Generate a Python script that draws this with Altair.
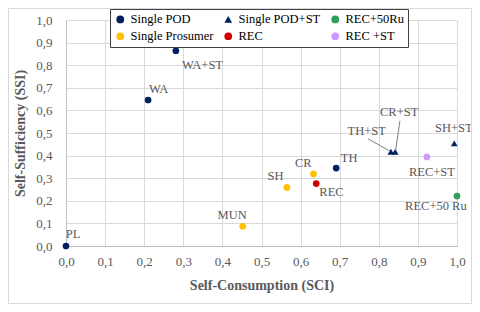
import altair as alt
import pandas as pd

# Series (legend order, row-major in 3 columns)
series = ["Single POD", "Single POD+ST", "REC+50Ru", "Single Prosumer", "REC", "REC +ST"]
series_colors = ["#002060", "#002060", "#2E9E5B", "#FFC000", "#D00000", "#CC99FF"]
series_shapes = ["circle", "triangle-up", "circle", "circle", "circle", "circle"]

# Points
names = ["PL", "WA", "WA+ST", "TH", "CR", "SH", "MUN", "REC", "TH+ST", "CR+ST", "SH+ST", "REC+ST", "REC+50Ru"]
groups = ["Single POD", "Single POD", "Single POD", "Single POD", "Single Prosumer", "Single Prosumer",
          "Single Prosumer", "REC", "Single POD+ST", "Single POD+ST", "Single POD+ST", "REC +ST", "REC+50Ru"]
sci = [0.0, 0.21, 0.281, 0.691, 0.633, 0.565, 0.452, 0.640, 0.831, 0.842, 0.993, 0.923, 1.0]
ssi = [0.0, 0.646, 0.864, 0.345, 0.319, 0.259, 0.087, 0.276, 0.417, 0.417, 0.454, 0.394, 0.221]

# Point labels and their anchor positions (data units)
label_text = ["PL", "WA", "WA+ST", "TH", "CR", "SH", "MUN", "REC", "TH+ST", "CR+ST", "SH+ST", "REC+ST", "REC+50 Ru"]
label_x = [0.018, 0.237, 0.349, 0.724, 0.607, 0.536, 0.425, 0.679, 0.769, 0.852, 0.992, 0.936, 0.946]
label_y = [0.053, 0.695, 0.802, 0.389, 0.367, 0.311, 0.138, 0.237, 0.507, 0.594, 0.522, 0.329, 0.175]

# Leader lines (data units)
lead_x = [0.772, 0.854]
lead_y = [0.475, 0.554]
lead_x2 = [0.829, 0.843]
lead_y2 = [0.419, 0.421]

ticks = [round(i / 10, 1) for i in range(11)]

pts = pd.DataFrame({"name": names, "group": groups, "SCI": sci, "SSI": ssi})
labels = pd.DataFrame({"name": label_text, "lx": label_x, "ly": label_y})
leads = pd.DataFrame({"x": lead_x, "y": lead_y, "x2": lead_x2, "y2": lead_y2})

W, H = 391, 226
serif = "Liberation Serif"
label_expr = "replace(format(datum.value, '.1f'), '.', ',')"

xscale = alt.Scale(domain=[0, 1], nice=False)
yscale = alt.Scale(domain=[0, 1], nice=False)
xaxis = alt.Axis(values=ticks, labelExpr=label_expr, title="Self-Consumption (SCI)",
                 grid=True, ticks=False, labelPadding=9, titlePadding=10,
                 labelFlush=False, labelOverlap=False, labelFont=serif)
yaxis = alt.Axis(values=ticks, labelExpr=label_expr, title="Self-Sufficiency (SSI)",
                 grid=True, ticks=False, labelPadding=14, titlePadding=8,
                 labelFlush=False, labelOverlap=False, labelFont=serif)

frame = alt.Chart(pd.DataFrame({"a": [0]})).mark_rect(
    fill="white", fillOpacity=0, stroke="#D9D9D9", strokeWidth=1
).encode(
    x=alt.value(-57.5), x2=alt.value(W + 14.5),
    y=alt.value(-11.5), y2=alt.value(H + 57.5)
)

base_pts = alt.Chart(pts).mark_point(filled=True, size=45, opacity=1).encode(
    x=alt.X("SCI:Q", scale=xscale, axis=xaxis),
    y=alt.Y("SSI:Q", scale=yscale, axis=yaxis),
    color=alt.Color("group:N", scale=alt.Scale(domain=series, range=series_colors),
                    legend=alt.Legend(title=None, orient="none", legendX=44, legendY=-11,
                                      columns=3, direction="horizontal", labelFont=serif)),
    shape=alt.Shape("group:N", scale=alt.Scale(domain=series, range=series_shapes)),
)

lead_rules = alt.Chart(leads).mark_rule(color="#7F7F7F", strokeWidth=1).encode(
    x=alt.X("x:Q", scale=xscale, axis=xaxis), y=alt.Y("y:Q", scale=yscale, axis=yaxis),
    x2="x2:Q", y2="y2:Q"
)

text = alt.Chart(labels).mark_text(
    font=serif, fontSize=12.5, color="#595959", align="center", baseline="middle"
).encode(
    x=alt.X("lx:Q", scale=xscale, axis=xaxis), y=alt.Y("ly:Q", scale=yscale, axis=yaxis),
    text="name:N"
)

chart = alt.layer(base_pts, lead_rules, text, frame).properties(
    width=W, height=H,
    autosize=alt.AutoSizeParams(type="none"),
    padding={"left": 58, "top": 12, "right": 15, "bottom": 58},
).configure(font=serif).configure_view(stroke=None).configure_axis(
    gridColor="#D9D9D9", domainColor="#BFBFBF", labelFont=serif, labelFontSize=13,
    labelColor="#595959", titleFont=serif, titleFontSize=14, titleFontWeight="bold",
    titleColor="#595959",
).configure_legend(
    labelFont=serif, labelFontSize=12.5, labelColor="#000000", strokeColor="#404040",
    fillColor="white", padding=4, symbolSize=60, symbolStrokeWidth=0, columnPadding=8,
    rowPadding=4, labelOffset=4, symbolType="circle",
)

chart.save("out.html", embed_options={"renderer": "svg", "actions": False})
